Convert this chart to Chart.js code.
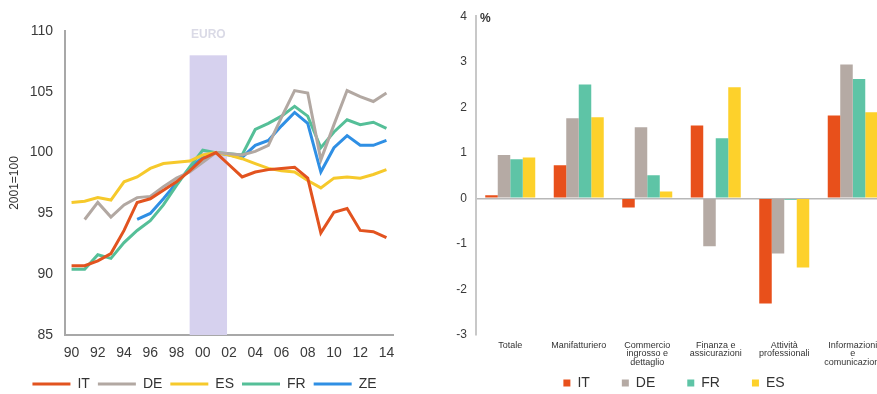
<!DOCTYPE html>
<html>
<head>
<meta charset="utf-8">
<script src="https://cdn.jsdelivr.net/npm/chart.js@4.4.1/dist/chart.umd.min.js"></script>
<style>
  html, body { margin: 0; padding: 0; background: #fff; width: 877px; height: 394px; overflow: hidden; }
  #leftWrap { position: absolute; left: 0; top: 0; width: 430px; height: 394px; overflow: hidden; }
  #rightWrap { position: absolute; left: 440px; top: 0; width: 437px; height: 394px; overflow: hidden; }
  canvas { position: absolute; left: 0; top: 0; }
</style>
</head>
<body>
<div id="leftWrap"><canvas id="lc" width="430" height="402"></canvas></div>
<div id="rightWrap"><canvas id="rc" width="460" height="400"></canvas></div>
<script>
// ---- Left panel: index 2001=100 ----
const years = ['1990','1991','1992','1993','1994','1995','1996','1997','1998','1999','2000','2001',
               '2002','2003','2004','2005','2006','2007','2008','2009','2010','2011','2012','2013','2014'];
const seriesIT = [90.7, 90.7, 91.1, 91.7, 93.6, 95.9, 96.2, 96.9, 97.6, 98.5, 99.5, 100,
                  99.0, 98.0, 98.4, 98.6, 98.7, 98.8, 97.9, 93.4, 95.1, 95.4, 93.6, 93.5, 93.0];
const seriesDE = [null, 94.5, 95.9, 94.7, 95.7, 96.3, 96.4, 97.2, 97.9, 98.4, 99.2, 100,
                  99.9, 99.8, 100.1, 100.6, 102.9, 105.1, 104.9, 99.4, 102.3, 105.1, 104.6, 104.2, 104.9];
const seriesES = [95.9, 96.0, 96.3, 96.1, 97.6, 98.0, 98.7, 99.1, 99.2, 99.3, 99.8, 100,
                  99.8, 99.5, 99.1, 98.7, 98.5, 98.4, 97.7, 97.1, 97.9, 98.0, 97.9, 98.2, 98.6];
const seriesFR = [90.4, 90.4, 91.6, 91.3, 92.6, 93.6, 94.4, 95.7, 97.3, 98.8, 100.2, 100,
                  99.9, 99.8, 101.9, 102.4, 103.0, 103.8, 103.0, 100.4, 101.7, 102.7, 102.3, 102.5, 102.0];
const seriesZE = [null, null, null, null, null, 94.5, 95.0, 96.2, 97.5, 98.7, 99.6, 100,
                  99.8, 99.6, 100.6, 101.0, 102.2, 103.3, 102.4, 98.4, 100.4, 101.4, 100.6, 100.6, 101.0];
// shaded euro changeover period (category index units) and its top value
const euroSpan = [9, 11.85];
const euroTop = 108;

// ---- Right panel: sector growth, % ----
const sectors = ['Totale', 'Manifatturiero', ['Commercio', 'ingrosso e', 'dettaglio'],
                 ['Finanza e', 'assicurazioni'], ['Attività', 'professionali'],
                 ['Informazioni', 'e', 'comunicazioni']];
const barIT = [0.07, 0.73, -0.20, 1.60, -2.31, 1.82];
const barDE = [0.95, 1.76, 1.56, -1.05, -1.21, 2.94];
const barFR = [0.86, 2.50, 0.51, 1.32, -0.03, 2.62];
const barES = [0.90, 1.78, 0.15, 2.44, -1.52, 1.89];

const COL = {
  IT: '#E2531F', DE: '#B2A8A2', ES: '#F6C92B', FR: '#55BF98', ZE: '#2F8FE4',
  barIT: '#E8501B', barDE: '#B5AAA4', barFR: '#5EC4A6', barES: '#FDD12B'
};

Chart.defaults.font.family = "'Liberation Sans', Arial, sans-serif";
Chart.defaults.color = '#3a3a3a';

const euroBand = {
  id: 'euroBand',
  beforeDatasetsDraw(chart) {
    const { ctx, chartArea, scales: { x, y } } = chart;
    const x0 = x.getPixelForValue(euroSpan[0]);
    const x1 = x.getPixelForValue(euroSpan[1]);
    const yTop = y.getPixelForValue(euroTop);
    ctx.save();
    ctx.fillStyle = '#D6D1EE';
    ctx.fillRect(x0, yTop, x1 - x0, chartArea.bottom - yTop);
    ctx.fillStyle = '#DADAE6';
    ctx.font = "bold 12px 'Liberation Sans', Arial, sans-serif";
    ctx.textAlign = 'center';
    ctx.textBaseline = 'middle';
    ctx.fillText('EURO', (x0 + x1) / 2, 35);
    ctx.restore();
  }
};

const lineSet = (label, data, color) => ({
  label, data, borderColor: color, backgroundColor: color,
  borderWidth: 3, pointRadius: 0, tension: 0, spanGaps: false
});

new Chart(document.getElementById('lc'), {
  type: 'line',
  data: {
    labels: years,
    datasets: [
      lineSet('IT', seriesIT, COL.IT),
      lineSet('DE', seriesDE, COL.DE),
      lineSet('ES', seriesES, COL.ES),
      lineSet('FR', seriesFR, COL.FR),
      lineSet('ZE', seriesZE, COL.ZE)
    ]
  },
  options: {
    responsive: false,
    animation: false,
    layout: { padding: { top: 31, right: 37, left: 16, bottom: 1 } },
    scales: {
      x: {
        offset: true,
        grid: { display: false, drawTicks: false, offset: false },
        border: { display: true, color: '#A8A8A8', width: 2 },
        ticks: {
          autoSkip: false, maxRotation: 0, padding: 10, font: { size: 14 }, color: '#3a3a3a',
          callback: function (v) {
            const yr = this.getLabelForValue(v);
            return (+yr) % 2 === 0 ? yr.slice(2) : '';
          }
        },
        afterFit: s => { s.height = 34; }
      },
      y: {
        min: 85, max: 110,
        ticks: { stepSize: 5, padding: 12, font: { size: 14 }, color: '#3a3a3a' },
        grid: { display: false, drawTicks: false },
        border: { display: true, color: '#A8A8A8', width: 2 },
        title: { display: true, text: '2001=100', font: { size: 12 }, color: '#333', padding: { top: -9, bottom: 0 } },
        afterFit: s => { s.width = 49; }
      }
    },
    plugins: {
      legend: {
        position: 'bottom',
        labels: { usePointStyle: true, pointStyle: 'line', pointStyleWidth: 38, padding: 8, font: { size: 14 }, color: '#333' }
      },
      tooltip: { enabled: false }
    }
  },
  plugins: [euroBand]
});

const percentLabel = {
  id: 'percentLabel',
  afterDraw(chart) {
    const { ctx, chartArea } = chart;
    ctx.save();
    ctx.fillStyle = '#333';
    ctx.font = "bold 12px 'Liberation Sans', Arial, sans-serif";
    ctx.textAlign = 'left';
    ctx.textBaseline = 'middle';
    ctx.fillText('%', chartArea.left + 4, 19);
    ctx.restore();
  }
};

new Chart(document.getElementById('rc'), {
  type: 'bar',
  data: {
    labels: sectors,
    datasets: [
      { label: 'IT', data: barIT, backgroundColor: COL.barIT },
      { label: 'DE', data: barDE, backgroundColor: COL.barDE },
      { label: 'FR', data: barFR, backgroundColor: COL.barFR },
      { label: 'ES', data: barES, backgroundColor: COL.barES }
    ]
  },
  options: {
    responsive: false,
    animation: false,
    layout: { padding: { top: 15, right: 13, left: 21, bottom: 0 } },
    datasets: { bar: { categoryPercentage: 0.73, barPercentage: 1.0 } },
    scales: {
      x: {
        grid: { display: false, drawTicks: false },
        border: { display: false },
        ticks: { autoSkip: false, maxRotation: 0, padding: 6, font: { size: 9, lineHeight: 0.95 }, color: '#333' },
        afterFit: s => {
          s.height = 9;
          // the sector names hang below this short box into the legend band; keep them unclipped
          s._computeLabelArea = () => undefined;
        }
      },
      y: {
        min: -3, max: 4,
        ticks: { stepSize: 1, padding: 9, font: { size: 12 }, color: '#3a3a3a' },
        grid: { drawTicks: false, lineWidth: 1.5, color: c => (c.tick && c.tick.value === 0) ? '#B8B8B8' : 'rgba(0,0,0,0)' },
        border: { display: true, color: '#C8C8C8', width: 2 },
        afterFit: s => {
          s.width = 15;
          // narrow box; let the signed tick labels extend to its left
          s._computeLabelArea = () => undefined;
        }
      }
    },
    plugins: {
      legend: {
        position: 'bottom',
        labels: { usePointStyle: true, pointStyle: 'rect', boxWidth: 7, boxHeight: 7, padding: 32, font: { size: 14 }, color: '#333' }
      },
      tooltip: { enabled: false }
    }
  },
  plugins: [percentLabel]
});
</script>
</body>
</html>
